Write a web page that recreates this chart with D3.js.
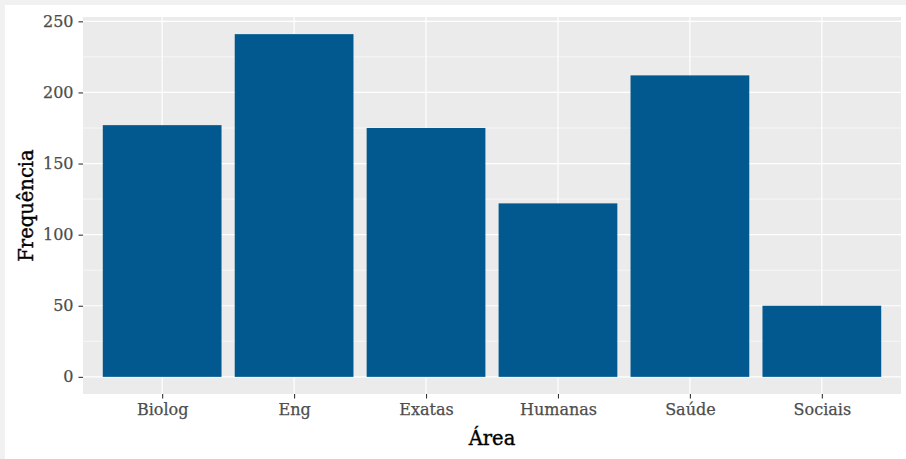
<!DOCTYPE html>
<html>
<head>
<meta charset="utf-8">
<script src="https://cdn.jsdelivr.net/npm/d3@7"></script>
<style>
  body { margin: 0; padding: 0; background: #f1f1f1; }
  svg { display: block; }
</style>
</head>
<body>
<svg id="chart" width="906" height="459"></svg>
<script>
const categories = ["Biolog", "Eng", "Exatas", "Humanas", "Saúde", "Sociais"];
const values = [177, 241, 175, 122, 212, 50];
const yTicks = [0, 50, 100, 150, 200, 250];
const yMinorTicks = [25, 75, 125, 175, 225];
const xTitle = "Área";
const yTitle = "Frequência";

const W = 906, H = 459;
const panel = { left: 83, right: 901, top: 17, bottom: 394 };
const fontFamily = "'DejaVu Serif', 'Liberation Serif', serif";

const svg = d3.select("#chart");

svg.append("rect").attr("x", 0).attr("y", 0).attr("width", W).attr("height", H).attr("fill", "#f1f1f1");
svg.append("rect").attr("x", 5).attr("y", 5).attr("width", W - 5).attr("height", H - 5).attr("fill", "#ffffff");

const maxV = d3.max(values);
const pad = maxV * 0.05;
const y = d3.scaleLinear().domain([-pad, maxV + pad]).range([panel.bottom, panel.top]);

const n = categories.length;
const unit = (panel.right - panel.left) / (n - 1 + 1.2);
const xPos = d3.scalePoint().domain(categories)
  .range([panel.left + 0.6 * unit, panel.right - 0.6 * unit]);
const barW = unit * 0.9;

svg.append("rect")
  .attr("x", panel.left).attr("y", panel.top)
  .attr("width", panel.right - panel.left).attr("height", panel.bottom - panel.top)
  .attr("fill", "#ebebeb");

svg.append("g").selectAll("line").data(yMinorTicks).join("line")
  .attr("x1", panel.left).attr("x2", panel.right)
  .attr("y1", d => y(d)).attr("y2", d => y(d))
  .attr("stroke", "#ffffff").attr("stroke-width", 0.6);

svg.append("g").selectAll("line").data(yTicks).join("line")
  .attr("x1", panel.left).attr("x2", panel.right)
  .attr("y1", d => y(d)).attr("y2", d => y(d))
  .attr("stroke", "#ffffff").attr("stroke-width", 1.2);
svg.append("g").selectAll("line").data(categories).join("line")
  .attr("x1", d => xPos(d)).attr("x2", d => xPos(d))
  .attr("y1", panel.top).attr("y2", panel.bottom)
  .attr("stroke", "#ffffff").attr("stroke-width", 1.2);

svg.append("g").selectAll("rect").data(categories).join("rect")
  .attr("x", d => xPos(d) - barW / 2)
  .attr("width", barW)
  .attr("y", (d, i) => y(values[i]))
  .attr("height", (d, i) => y(0) - y(values[i]))
  .attr("fill", "#02598f");

const tickFont = 16;
const yAxis = d3.axisLeft(y).tickValues(yTicks).tickSize(4.5).tickPadding(5);
const gy = svg.append("g").attr("transform", `translate(${panel.left},0)`).call(yAxis);
gy.select(".domain").remove();
gy.selectAll(".tick line").attr("stroke", "#333333").attr("stroke-width", 1.1);
gy.selectAll(".tick text").attr("fill", "#4d4d4d").attr("font-family", fontFamily)
  .attr("font-size", tickFont).attr("stroke", "#4d4d4d").attr("stroke-width", 0.25);

const xAxis = d3.axisBottom(xPos).tickSize(4.5).tickPadding(5.5);
const gx = svg.append("g").attr("transform", `translate(0,${panel.bottom})`).call(xAxis);
gx.select(".domain").remove();
gx.selectAll(".tick line").attr("stroke", "#333333").attr("stroke-width", 1.1);
gx.selectAll(".tick text").attr("fill", "#4d4d4d").attr("font-family", fontFamily)
  .attr("font-size", tickFont).attr("stroke", "#4d4d4d").attr("stroke-width", 0.25);

svg.append("text")
  .attr("x", (panel.left + panel.right) / 2).attr("y", 445)
  .attr("text-anchor", "middle")
  .attr("font-family", fontFamily).attr("font-size", 19.5).attr("fill", "#000")
  .attr("stroke", "#000").attr("stroke-width", 0.4)
  .text(xTitle);
svg.append("text")
  .attr("transform", `translate(33,${(panel.top + panel.bottom) / 2}) rotate(-90)`)
  .attr("text-anchor", "middle")
  .attr("font-family", fontFamily).attr("font-size", 19.5).attr("fill", "#000")
  .attr("stroke", "#000").attr("stroke-width", 0.4)
  .text(yTitle);
</script>
</body>
</html>
